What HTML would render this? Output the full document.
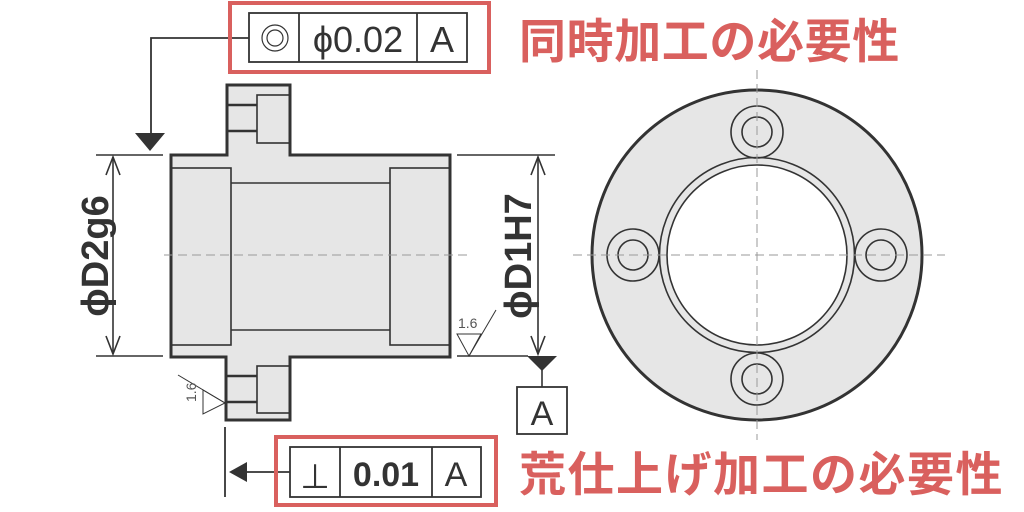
<!DOCTYPE html>
<html><head><meta charset="utf-8"><style>
html,body{margin:0;padding:0;background:#fff;width:1024px;height:512px;overflow:hidden}
svg{display:block}
</style></head><body>
<svg width="1024" height="512" viewBox="0 0 1024 512" xmlns="http://www.w3.org/2000/svg" font-family="Liberation Sans, sans-serif">
<path d="M227,85 H290 V155 H450 V357 H290 V420 H226 V357 H171 V155 H227 Z" fill="#e6e6e6" stroke="#333" stroke-width="3"/>
<g fill="none" stroke="#333" stroke-width="1.6">
<rect x="171" y="168" width="60" height="177"/>
<rect x="390" y="168" width="60" height="177"/>
<line x1="231" y1="183" x2="390" y2="183"/>
<line x1="231" y1="330" x2="390" y2="330"/>
<rect x="257" y="95" width="33" height="48"/>
<rect x="257" y="366" width="33" height="47"/>
</g>
<g stroke="#333" stroke-width="2.5">
<line x1="227" y1="105" x2="257" y2="105"/>
<line x1="227" y1="131" x2="257" y2="131"/>
<line x1="227" y1="376" x2="257" y2="376"/>
<line x1="227" y1="402" x2="257" y2="402"/>
</g>
<g stroke="#999" stroke-width="1" stroke-dasharray="9,5">
<line x1="164" y1="255" x2="470" y2="255"/>
</g>
<g stroke="#333" stroke-width="1.6" fill="none">
<line x1="96" y1="155" x2="163" y2="155"/>
<line x1="96" y1="356" x2="163" y2="356"/>
<line x1="113" y1="157" x2="113" y2="354"/>
<polyline points="106,175 113,157 120,175"/>
<polyline points="106,336 113,354 120,336"/>
<line x1="457" y1="155" x2="555" y2="155"/>
<line x1="457" y1="356" x2="528" y2="356"/>
<line x1="538" y1="157" x2="538" y2="354"/>
<polyline points="531,175 538,157 545,175"/>
<polyline points="531,336 538,354 545,336"/>
<line x1="542" y1="365" x2="542" y2="388"/>
</g>
<polygon points="527,356 557,356 542,371" fill="#333"/>
<rect x="517" y="387" width="50" height="47" fill="#fff" stroke="#333" stroke-width="1.8"/>
<text x="542" y="425" font-size="34" text-anchor="middle" fill="#333">A</text>
<text transform="translate(108,256) rotate(-90)" font-size="38" font-weight="bold" text-anchor="middle" fill="#333">ϕD2g6</text>
<text transform="translate(531,256) rotate(-90)" font-size="38" font-weight="bold" text-anchor="middle" fill="#333">ϕD1H7</text>
<g stroke="#333" stroke-width="1" fill="none">
<polygon points="457,334 481,334 469,356"/>
<line x1="469" y1="356" x2="496" y2="310"/>
<polygon points="203,390 203,414 225,403"/>
<line x1="225" y1="403" x2="178" y2="375"/>
</g>
<text x="458" y="328" font-size="14" fill="#555">1.6</text>
<text transform="translate(196,402) rotate(-90)" font-size="14" fill="#555">1.6</text>
<polyline points="249,38 151,38 151,135" fill="none" stroke="#333" stroke-width="1.8"/>
<polygon points="135,133 165,133 150,151" fill="#333"/>
<rect x="230" y="3" width="259" height="69" fill="none" stroke="#d9605e" stroke-width="4"/>
<rect x="249" y="13" width="218" height="49" fill="#fff" stroke="#333" stroke-width="1.8"/>
<line x1="299" y1="13" x2="299" y2="62" stroke="#333" stroke-width="1.8"/>
<line x1="417" y1="13" x2="417" y2="62" stroke="#333" stroke-width="1.8"/>
<circle cx="275" cy="38" r="13" fill="none" stroke="#333" stroke-width="1.2"/>
<circle cx="275" cy="38" r="8" fill="none" stroke="#333" stroke-width="1.2"/>
<text x="358" y="52" font-size="36" text-anchor="middle" fill="#333">ϕ0.02</text>
<text x="442" y="52" font-size="36" text-anchor="middle" fill="#333">A</text>
<line x1="225" y1="427" x2="225" y2="497" stroke="#333" stroke-width="1.8"/>
<line x1="245" y1="472" x2="290" y2="472" stroke="#333" stroke-width="1.8"/>
<polygon points="229,472 247,462 247,482" fill="#333"/>
<rect x="276" y="437" width="220" height="68" fill="none" stroke="#d9605e" stroke-width="4"/>
<rect x="290" y="447" width="191" height="50" fill="#fff" stroke="#333" stroke-width="1.8"/>
<line x1="340" y1="447" x2="340" y2="497" stroke="#333" stroke-width="1.8"/>
<line x1="432" y1="447" x2="432" y2="497" stroke="#333" stroke-width="1.8"/>
<text x="315" y="488" font-size="34" text-anchor="middle" fill="#333">⊥</text>
<text x="386" y="486" font-size="34" font-weight="bold" text-anchor="middle" fill="#333">0.01</text>
<text x="456" y="486" font-size="34" text-anchor="middle" fill="#333">A</text>
<text x="519" y="58" font-size="47" font-weight="bold" letter-spacing="0.6" fill="#d9605e" font-family="Liberation Sans, Noto Sans CJK JP, sans-serif">同時加工の必要性</text>
<text x="519" y="491" font-size="47" font-weight="bold" letter-spacing="1.5" fill="#d9605e" font-family="Liberation Sans, Noto Sans CJK JP, sans-serif">荒仕上げ加工の必要性</text>
<circle cx="757" cy="255" r="165" fill="#e6e6e6" stroke="#333" stroke-width="3"/>
<circle cx="757" cy="255" r="97.5" fill="#e6e6e6" stroke="#333" stroke-width="1.6"/>
<circle cx="757" cy="255" r="90" fill="#fff" stroke="#333" stroke-width="1.6"/>
<g fill="none" stroke="#333" stroke-width="1.6">
<circle cx="757" cy="132" r="26"/><circle cx="757" cy="132" r="15"/>
<circle cx="757" cy="379" r="26"/><circle cx="757" cy="379" r="15"/>
<circle cx="633" cy="255" r="26"/><circle cx="633" cy="255" r="15"/>
<circle cx="881" cy="255" r="26"/><circle cx="881" cy="255" r="15"/>
</g>
<g stroke="#999" stroke-width="1" stroke-dasharray="9,5">
<line x1="573" y1="255" x2="945" y2="255"/>
<line x1="757" y1="70" x2="757" y2="440"/>
</g>
</svg>
</body></html>
